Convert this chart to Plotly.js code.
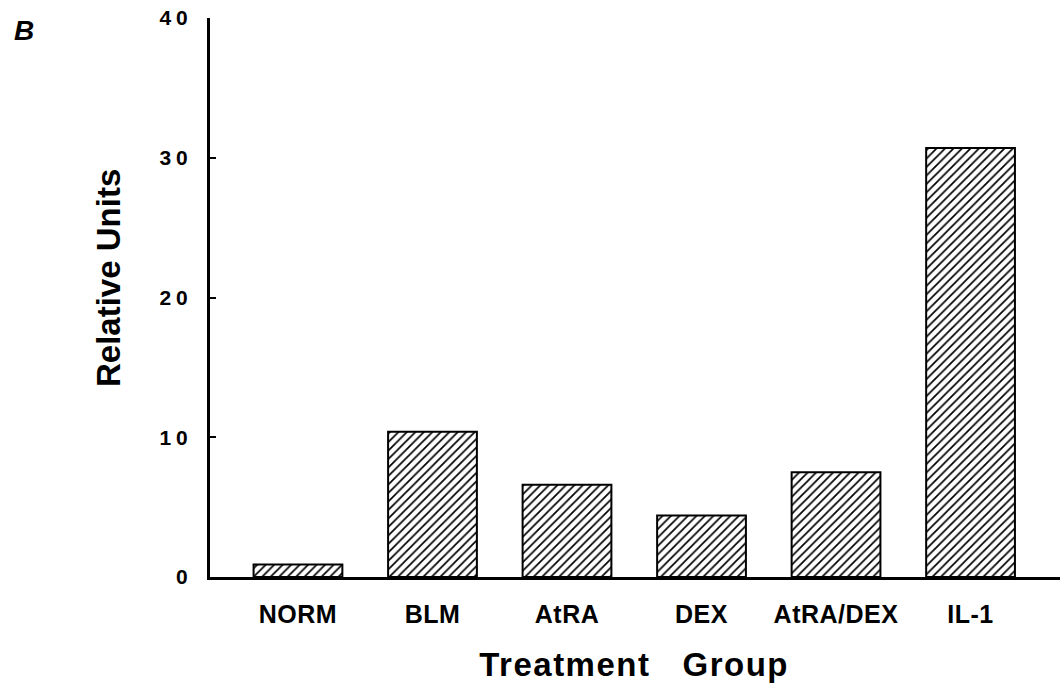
<!DOCTYPE html>
<html>
<head>
<meta charset="utf-8">
<script src="https://cdn.plot.ly/plotly-3.0.1.min.js"></script>
<style>
html,body{margin:0;padding:0;background:#fff;}
#chart{width:1062px;height:686px;}
.xtick text{letter-spacing:0.5px;}
.ytick text{letter-spacing:5px;}
.annotation[data-index="1"] .annotation-text{letter-spacing:1.5px;}
</style>
</head>
<body>
<div id="chart"></div>
<script>
const categories = ["NORM", "BLM", "AtRA", "DEX", "AtRA/DEX", "IL-1"];
const relativeUnits = [0.9, 10.4, 6.6, 4.4, 7.5, 30.7];
const yTickValues = [0, 10, 20, 30, 40];
const yTickLabels = ["0", "10", "20", "30", "40"];

const FONT = "Liberation Sans, Arial, sans-serif";

const trace = {
  type: "bar",
  x: categories,
  y: relativeUnits,
  marker: {
    color: "#ffffff",
    line: {color: "#000000", width: 2},
    pattern: {shape: "/", fgcolor: "#000000", bgcolor: "#ffffff", size: 6, solidity: 0.28}
  },
  hoverinfo: "x+y"
};

const layout = {
  width: 1062,
  height: 686,
  margin: {l: 210, r: 2, t: 18, b: 109},
  paper_bgcolor: "#ffffff",
  plot_bgcolor: "#ffffff",
  showlegend: false,
  bargap: 0.34,
  font: {family: FONT, color: "#000000"},
  xaxis: {
    type: "category",
    range: [-0.654, 5.665],
    showline: true,
    linecolor: "#000000",
    linewidth: 3,
    ticks: "",
    showgrid: false,
    zeroline: false,
    tickfont: {family: FONT, size: 25, weight: "bold", color: "#000000"},
    ticklabelstandoff: 13
  },
  yaxis: {
    range: [0, 40],
    tickvals: yTickValues,
    ticktext: yTickLabels,
    showline: true,
    linecolor: "#000000",
    linewidth: 3,
    ticks: "inside",
    ticklen: 6,
    tickwidth: 2,
    tickcolor: "#000000",
    showgrid: false,
    zeroline: false,
    tickfont: {family: FONT, size: 21, weight: "bold", color: "#000000"},
    ticklabelstandoff: 10
  },
  annotations: [
    {text: "Relative Units", xref: "paper", yref: "paper", x: (108 - 210) / 850, y: (577 - 278) / 559,
     textangle: -90, showarrow: false, xanchor: "center", yanchor: "middle",
     font: {family: FONT, size: 33, weight: "bold", color: "#000000"}},
    {text: "Treatment\u00a0\u00a0\u00a0Group", xref: "paper", yref: "paper", x: (634 - 210) / 850, y: -(664 - 577) / 559,
     showarrow: false, xanchor: "center", yanchor: "middle",
     font: {family: FONT, size: 33, weight: "bold", color: "#000000"}},
    {text: "B", xref: "paper", yref: "paper", x: (24 - 210) / 850, y: (577 - 30) / 559,
     showarrow: false, xanchor: "center", yanchor: "middle",
     font: {family: FONT, size: 28, weight: "bold", style: "italic", color: "#000000"}}
  ]
};

Plotly.newPlot("chart", [trace], layout, {displayModeBar: false, staticPlot: true});
</script>
</body>
</html>
